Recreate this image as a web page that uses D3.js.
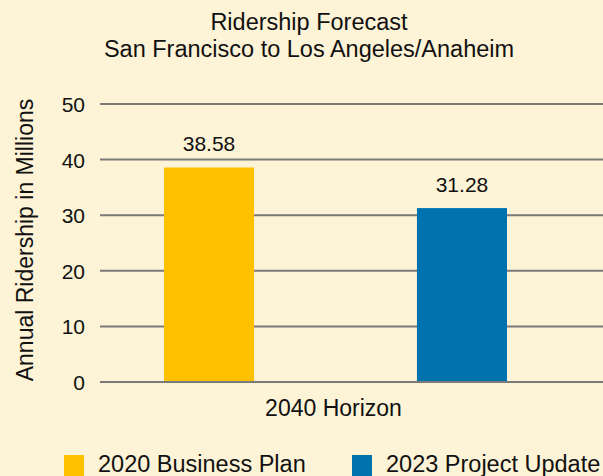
<!DOCTYPE html>
<html>
<head>
<meta charset="utf-8">
<script src="https://cdn.jsdelivr.net/npm/d3@7"></script>
<style>
  html, body { margin: 0; padding: 0; background: #fdf3d6; }
  svg { display: block; font-family: "Liberation Sans", Arial, sans-serif; }
</style>
</head>
<body>
<div id="chart"></div>
<script>
var categories = ["2040 Horizon"];
var seriesNames = ["2020 Business Plan", "2023 Project Update"];
var seriesValues = [38.58, 31.28];
var seriesColors = ["#ffc000", "#0073ae"];
var yTicks = [0, 10, 20, 30, 40, 50];
var titleLines = ["Ridership Forecast", "San Francisco to Los Angeles/Anaheim"];
var yTitle = "Annual Ridership in Millions";

var width = 603;
var height = 476;

var svg = d3.select("#chart")
    .append("svg")
    .attr("width", width)
    .attr("height", height);

svg.append("rect")
    .attr("width", width)
    .attr("height", height)
    .attr("fill", "#fdf3d6");

// scales
var y = d3.scaleLinear()
    .domain([0, 50])
    .range([382, 104]);

var x0 = d3.scaleBand()
    .domain(categories)
    .range([100, 571]);

var x1 = d3.scaleBand()
    .domain(seriesNames)
    .range([164, 507])
    .paddingInner(0.644);

// title
svg.append("g").selectAll("text")
    .data(titleLines)
    .enter()
    .append("text")
    .attr("x", 309)
    .attr("y", function(d, i) { return 30 + i * 27; })
    .attr("text-anchor", "middle")
    .attr("font-size", 23.5)
    .attr("fill", "#111")
    .text(function(d) { return d; });

// grid lines
var gGrid = svg.append("g");
gGrid.selectAll("line")
    .data(yTicks)
    .enter()
    .append("line")
    .attr("x1", 100)
    .attr("x2", width)
    .attr("y1", function(d) { return y(d); })
    .attr("y2", function(d) { return y(d); })
    .attr("stroke", "#7a7a78")
    .attr("stroke-width", 2);

// y axis labels
var yAxis = d3.axisLeft(y)
    .tickValues(yTicks)
    .tickSize(0)
    .tickPadding(0);
var gY = svg.append("g")
    .attr("transform", "translate(85,0)")
    .call(yAxis);
gY.select(".domain").remove();
gY.selectAll("text")
    .attr("font-family", "Liberation Sans, Arial, sans-serif")
    .attr("font-size", 21)
    .attr("fill", "#111")
    .attr("dy", "0.36em");

// y title
svg.append("text")
    .attr("transform", "translate(33," + ((98 + 382) / 2) + ") rotate(-90)")
    .attr("text-anchor", "middle")
    .attr("font-size", 23)
    .attr("fill", "#111")
    .text(yTitle);

// bars
var gBars = svg.append("g");
gBars.selectAll("rect")
    .data(seriesNames)
    .enter()
    .append("rect")
    .attr("x", function(d) { return x1(d); })
    .attr("y", function(d, i) { return y(seriesValues[i]); })
    .attr("width", x1.bandwidth())
    .attr("height", function(d, i) { return y(0) - y(seriesValues[i]); })
    .attr("fill", function(d, i) { return seriesColors[i]; });

// redraw zero line over bars
svg.append("line")
    .attr("x1", 100)
    .attr("x2", width)
    .attr("y1", y(0))
    .attr("y2", y(0))
    .attr("stroke", "#7a7a78")
    .attr("stroke-width", 2);

// data labels
gBars.selectAll("text")
    .data(seriesNames)
    .enter()
    .append("text")
    .attr("x", function(d) { return x1(d) + x1.bandwidth() / 2; })
    .attr("y", function(d, i) { return y(seriesValues[i]) - 16; })
    .attr("text-anchor", "middle")
    .attr("font-size", 21)
    .attr("fill", "#111")
    .text(function(d, i) { return seriesValues[i].toFixed(2); });

// x category label
svg.append("g").selectAll("text")
    .data(categories)
    .enter()
    .append("text")
    .attr("x", function(d) { return x0(d) + x0.bandwidth() / 2 - 2; })
    .attr("y", 416)
    .attr("text-anchor", "middle")
    .attr("font-size", 23)
    .attr("fill", "#111")
    .text(function(d) { return d; });

// legend
var legendX = [64, 352];
var gLegend = svg.append("g");
var item = gLegend.selectAll("g")
    .data(seriesNames)
    .enter()
    .append("g")
    .attr("transform", function(d, i) { return "translate(" + legendX[i] + ",455)"; });
item.append("rect")
    .attr("width", 20)
    .attr("height", 21)
    .attr("fill", function(d, i) { return seriesColors[i]; });
item.append("text")
    .attr("x", 34)
    .attr("y", 17)
    .attr("font-size", 23.5)
    .attr("fill", "#111")
    .text(function(d) { return d; });
</script>
</body>
</html>
